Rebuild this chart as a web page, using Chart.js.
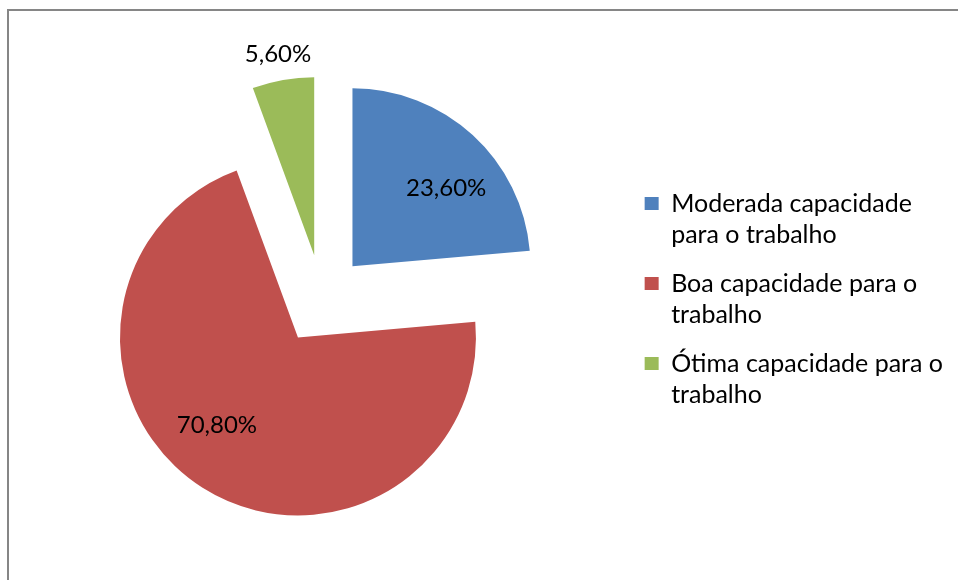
<!DOCTYPE html>
<html>
<head>
<meta charset="utf-8">
<script src="https://cdn.jsdelivr.net/npm/chart.js@4.4.0/dist/chart.umd.min.js"></script>
<style>
    html, body { margin: 0; padding: 0; background: #fff; }
    #contenedor { width: 958px; height: 580px; }
</style>
</head>
<body>
<div id="contenedor"><canvas id="chartCapacidade"></canvas></div>
<script>
const categorias = [
    ['Moderada capacidade', 'para o trabalho'],
    ['Boa capacidade para o', 'trabalho'],
    ['Ótima capacidade para o', 'trabalho']
];
const porcentagens = [23.6, 70.8, 5.6];
const cores = ['#4F81BD', '#C0504D', '#9BBB59'];

const RAIO = 178;
const SEPARACAO = 45; // distancia de cada fatia ao centro
const fonteRotulo = { family: 'Lato', size: 24 };
const fonteLegenda = { family: 'Lato', size: 25, lineHeight: '31.5px' };

const formatar = v => v.toFixed(2).replace('.', ',') + '%';

// moldura cinza (so topo e esquerda aparecem no recorte)
const moldura = {
    id: 'moldura',
    beforeDraw(chart) {
        const ctx = chart.ctx;
        ctx.save();
        ctx.fillStyle = '#fff';
        ctx.fillRect(0, 0, chart.width, chart.height);
        ctx.fillStyle = '#868686';
        ctx.fillRect(7, 9, chart.width - 7, 2);
        ctx.fillRect(7, 9, 2, chart.height - 9);
        ctx.restore();
    }
};

// desenha as fatias afastadas do centro sem aumentar o raio
const fatiasSeparadas = {
    id: 'fatiasSeparadas',
    beforeDatasetDraw(chart, args) {
        const ctx = chart.ctx;
        args.meta.data.forEach(arco => {
            const meio = (arco.startAngle + arco.endAngle) / 2;
            ctx.save();
            ctx.translate(Math.cos(meio) * SEPARACAO, Math.sin(meio) * SEPARACAO);
            arco.draw(ctx, chart.chartArea);
            ctx.restore();
        });
        return false;
    }
};

// rotulos de porcentagem
const rotulos = {
    id: 'rotulos',
    afterDatasetsDraw(chart) {
        const ctx = chart.ctx;
        const meta = chart.getDatasetMeta(0);
        const total = porcentagens.reduce((a, b) => a + b, 0);
        ctx.save();
        ctx.font = `${fonteRotulo.size}px ${fonteRotulo.family}`;
        ctx.fillStyle = '#000';
        ctx.textAlign = 'center';
        ctx.textBaseline = 'middle';
        meta.data.forEach((arco, i) => {
            const meio = (arco.startAngle + arco.endAngle) / 2;
            const fora = porcentagens[i] / total < 0.1;
            const ang = fora ? meio : meio + 9 * Math.PI / 180;
            const dist = fora ? arco.outerRadius + 23 : arco.outerRadius * 0.68;
            const cx = arco.x + Math.cos(meio) * SEPARACAO;
            const cy = arco.y + Math.sin(meio) * SEPARACAO;
            ctx.fillText(formatar(porcentagens[i]), cx + Math.cos(ang) * dist - 1, cy + Math.sin(ang) * dist - 3);
        });
        ctx.restore();
    }
};

new Chart(document.getElementById('chartCapacidade'), {
    type: 'pie',
    data: {
        labels: categorias,
        datasets: [{
            data: porcentagens,
            backgroundColor: cores,
            borderWidth: 0
        }]
    },
    options: {
        responsive: true,
        maintainAspectRatio: false,
        animation: false,
        events: [],
        radius: RAIO,
        layout: {
            padding: { left: 16.5, right: 5, top: 19, bottom: 0 }
        },
        plugins: {
            legend: {
                position: 'right',
                // titulo vazio so para descer um pouco os itens
                title: { display: true, text: '', padding: 0, font: { size: 5, lineHeight: '6px' } },
                labels: {
                    font: fonteLegenda,
                    color: '#000',
                    boxWidth: 14,
                    boxHeight: 13,
                    padding: 17
                }
            },
            tooltip: { enabled: false }
        }
    },
    plugins: [moldura, fatiasSeparadas, rotulos]
});
</script>
</body>
</html>
